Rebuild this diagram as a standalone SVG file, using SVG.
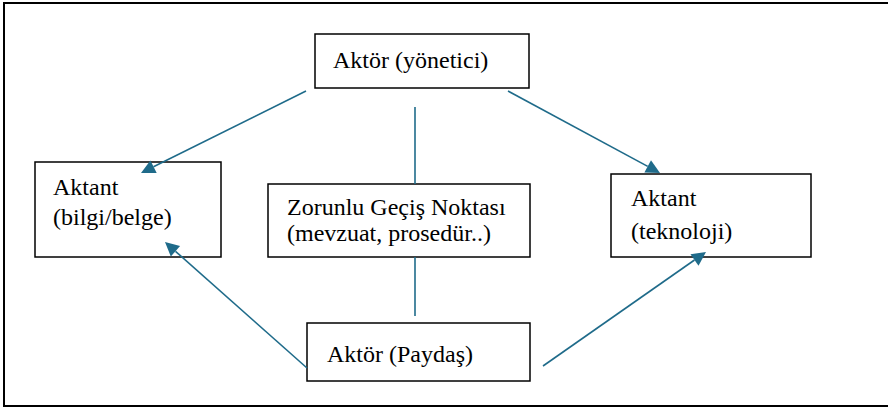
<svg xmlns="http://www.w3.org/2000/svg" width="888" height="408" viewBox="0 0 888 408">
<rect x="4" y="3" width="890" height="403" fill="#fff" stroke="#000" stroke-width="2"/>
<g id="yonetici">
<rect x="315" y="34" width="214" height="54" fill="none" stroke="#000" stroke-width="1.5"/>
<text x="333" y="68" font-family="Times New Roman, Liberation Serif, serif" font-size="24">Aktör (yönetici)</text>
</g>
<g id="bilgi">
<rect x="35" y="162" width="186" height="95" fill="none" stroke="#000" stroke-width="1.5"/>
<text x="53" y="195" font-family="Times New Roman, Liberation Serif, serif" font-size="24">Aktant</text>
<text x="53" y="225" font-family="Times New Roman, Liberation Serif, serif" font-size="24">(bilgi/belge)</text>
</g>
<g id="zorunlu">
<rect x="268" y="184" width="262" height="73" fill="none" stroke="#000" stroke-width="1.5"/>
<text x="287" y="215" font-family="Times New Roman, Liberation Serif, serif" font-size="24">Zorunlu Geçiş Noktası</text>
<text x="287" y="241" font-family="Times New Roman, Liberation Serif, serif" font-size="24">(mevzuat, prosedür..)</text>
</g>
<g id="teknoloji">
<rect x="611" y="174" width="200" height="83" fill="none" stroke="#000" stroke-width="1.5"/>
<text x="631" y="206" font-family="Times New Roman, Liberation Serif, serif" font-size="24">Aktant</text>
<text x="631" y="239" font-family="Times New Roman, Liberation Serif, serif" font-size="24">(teknoloji)</text>
</g>
<g id="paydas">
<rect x="307" y="323" width="223" height="58" fill="none" stroke="#000" stroke-width="1.5"/>
<text x="327" y="362" font-family="Times New Roman, Liberation Serif, serif" font-size="24">Aktör (Paydaş)</text>
</g>
<g id="connectors" stroke="#1f6b8a" stroke-width="1.6" fill="#1f6b8a">
<line x1="306" y1="91" x2="153.5" y2="166.8"/>
<polygon stroke="none" points="141,173 150.4,160.5 156.7,173.0"/>
<line x1="508" y1="91" x2="647.7" y2="166.4"/>
<polygon stroke="none" points="660,173 644.4,172.5 651.0,160.2"/>
<line x1="415" y1="107" x2="415" y2="184"/>
<line x1="415" y1="257" x2="415" y2="316"/>
<line x1="307" y1="368" x2="175.5" y2="251.3"/>
<polygon stroke="none" points="165,242 180.1,246.1 170.8,256.5"/>
<line x1="543" y1="366" x2="694.5" y2="260.0"/>
<polygon stroke="none" points="706,252 698.5,265.8 690.5,254.3"/>
</g>
</svg>
